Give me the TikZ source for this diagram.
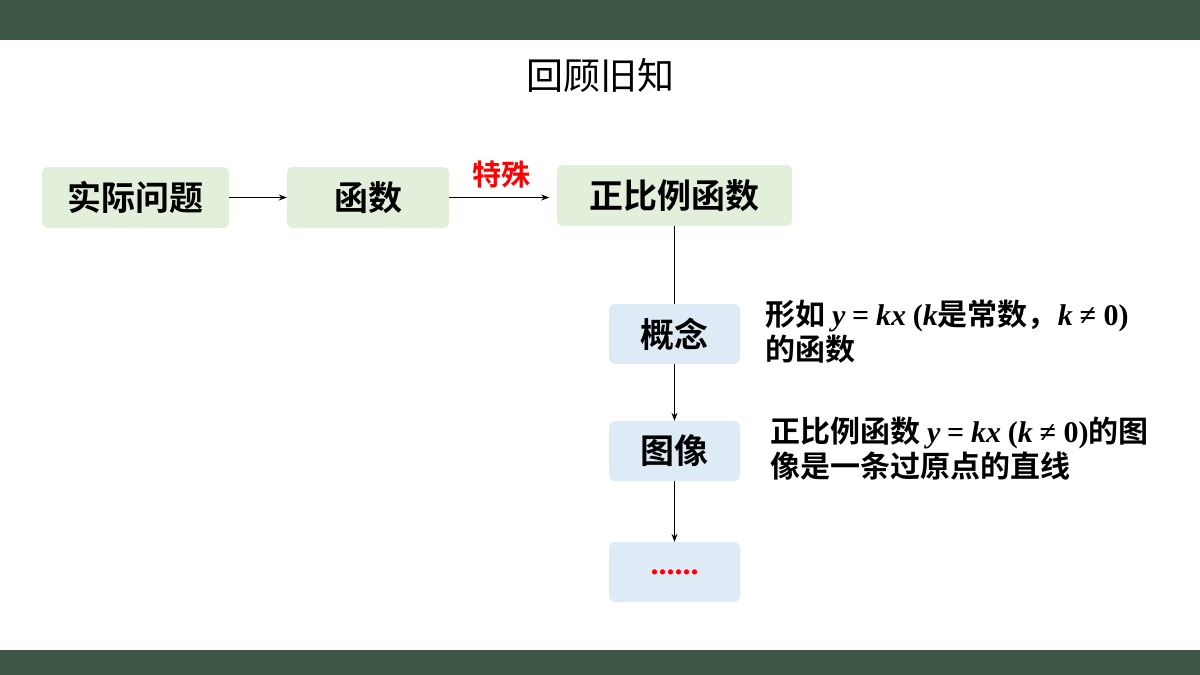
\documentclass[tikz,border=0pt]{standalone}
\usepackage{fontspec}
\setmainfont{Liberation Serif}
\newfontfamily\cjk{Noto Sans CJK SC}
\newfontfamily\cjkb{Noto Sans CJK SC Bold}
\newfontfamily\ser{Liberation Serif}
\usetikzlibrary{arrows.meta}
\definecolor{bar}{HTML}{3D5746}
\definecolor{gbox}{HTML}{E2EFDA}
\definecolor{bbox}{HTML}{DEEBF7}
\newcommand{\mi}[1]{{\ser\bfseries\itshape #1}}
\newcommand{\mr}[1]{{\ser\bfseries #1}}
\begin{document}
\begin{tikzpicture}[x=1pt,y=-1pt,
 gb/.style={fill=gbox,rounded corners=6pt,draw=none,font=\cjkb\fontsize{34}{38}\selectfont,inner sep=0pt},
 bb/.style={fill=bbox,rounded corners=6pt,draw=none,font=\cjkb\fontsize{34}{38}\selectfont,inner sep=0pt,minimum width=131pt,minimum height=60pt},
 arr/.style={-{Stealth[length=8pt,width=6pt]},line width=0.8pt},
 desc/.style={anchor=north west,align=left,font=\cjkb\fontsize{30}{35}\selectfont,inner sep=0pt}]
\useasboundingbox (0,0) rectangle (1200,675);
\fill[bar] (0,0) rectangle (1200,40);
\fill[bar] (0,650) rectangle (1200,675);
\node (title) at (600,75) {\cjk\fontsize{37}{40}\selectfont 回顾旧知};
\node[gb,minimum width=187pt,minimum height=61pt] (a) at (135.5,197.5) {实际问题};
\node[gb,minimum width=162pt,minimum height=61pt] (b) at (368,197.5) {函数};
\node[gb,minimum width=235pt,minimum height=61pt] (c) at (674.5,195.5) {正比例函数};
\node[bb] (d) at (674.5,334) {概念};
\node[bb] (e) at (674.5,451) {图像};
\node[bb] (f) at (674.5,572) {\textcolor{red}{\ser\bfseries\fontsize{32}{32}\selectfont ......}};
\draw[arr] (a.east) -- (b.west);
\draw[arr] (b.east) -- ++(100,0) coordinate (bc);
\node[text=red,font=\cjkb\fontsize{29}{32}\selectfont] (lab) at (501,175) {特殊};
\draw[line width=0.8pt] (c.south) -- (d.north);
\draw[arr] (d.south) -- (e.north);
\draw[arr] (e.south) -- (f.north);
\node[desc] (t1) at (765,300) {形如 \mi{y} \mr{=} \mi{kx} \mr{(}\mi{k}是常数，\mi{k} \mr{≠ 0)}\\的函数};
\node[desc] (t2) at (770,417) {正比例函数 \mi{y} \mr{=} \mi{kx} \mr{(}\mi{k} \mr{≠ 0)}的图\\像是一条过原点的直线};
\end{tikzpicture}
\end{document}
